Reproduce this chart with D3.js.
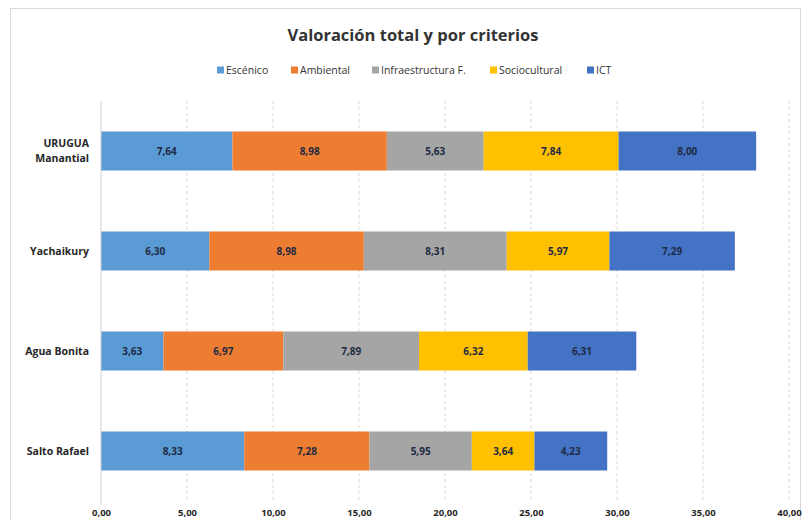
<!DOCTYPE html>
<html><head><meta charset="utf-8">
<script src="https://cdn.jsdelivr.net/npm/d3@7"></script>
<style>body{margin:0;background:#fff;} svg{display:block;font-family:"Open Sans","DejaVu Sans",sans-serif;}</style>
</head><body>
<svg id="c" width="803" height="520"></svg>
<script>
const categories = ["URUGUA Manantial", "Yachaikury", "Agua Bonita", "Salto Rafael"];
const seriesNames = ["Escénico", "Ambiental", "Infraestructura F.", "Sociocultural", "ICT"];
const escenico = [7.64, 6.30, 3.63, 8.33];
const ambiental = [8.98, 8.98, 6.97, 7.28];
const infraestructura = [5.63, 8.31, 7.89, 5.95];
const sociocultural = [7.84, 5.97, 6.32, 3.64];
const ict = [8.00, 7.29, 6.31, 4.23];
const xTicks = [0, 5, 10, 15, 20, 25, 30, 35, 40];
const colors = ["#5B9BD5", "#ED7D31", "#A5A5A5", "#FFC000", "#4472C4"];

const seriesValues = [escenico, ambiental, infraestructura, sociocultural, ict];
const rows = categories.map((c, i) => {
  const r = {cat: c};
  seriesNames.forEach((s, j) => r[s] = seriesValues[j][i]);
  return r;
});
const stack = d3.stack().keys(seriesNames)(rows);

const svg = d3.select("#c");
svg.append("rect").attr("x", 10.5).attr("y", 8.5).attr("width", 790).attr("height", 520)
  .attr("fill", "#fff").attr("stroke", "#d9d9d9");

const x = d3.scaleLinear().domain([0, 40]).range([101, 789]);
const y = d3.scaleBand().domain(categories).range([101, 501]).paddingInner(0.61).paddingOuter(0.305);

// gridlines
svg.append("g").selectAll("line").data(xTicks.slice(1)).join("line")
  .attr("x1", d => x(d)).attr("x2", d => x(d)).attr("y1", 101).attr("y2", 501)
  .attr("stroke", "#d9d9d9").attr("stroke-width", 1).attr("stroke-dasharray", "3,3");

// bars
const fmt = v => v.toFixed(2).replace(".", ",");
stack.forEach((s, j) => {
  const g = svg.append("g");
  g.selectAll("rect").data(s).join("rect")
    .attr("x", d => x(d[0])).attr("width", d => x(d[1]) - x(d[0]))
    .attr("y", d => y(d.data.cat)).attr("height", y.bandwidth())
    .attr("fill", colors[j]);
  g.selectAll("text").data(s).join("text")
    .attr("x", d => (x(d[0]) + x(d[1])) / 2)
    .attr("y", d => y(d.data.cat) + y.bandwidth() / 2)
    .attr("dy", "0.35em").attr("text-anchor", "middle")
    .attr("font-size", 10).attr("font-weight", "bold").attr("fill", "#1f2a44")
    .text(d => fmt(d[1] - d[0]));
});

// y axis line
svg.append("line").attr("x1", x(0)).attr("x2", x(0)).attr("y1", 101).attr("y2", 505)
  .attr("stroke", "#d0d0d0");

// category labels
const cl = svg.append("g").selectAll("text").data(categories).join("text")
  .attr("x", 89).attr("text-anchor", "end")
  .attr("font-size", 10.5).attr("font-weight", "bold").attr("fill", "#262626");
cl.each(function(d) {
  const parts = d === "URUGUA Manantial" ? ["URUGUA", "Manantial"] : [d];
  const t = d3.select(this);
  const cy = y(d) + y.bandwidth() / 2;
  parts.forEach((p, k) => {
    t.append("tspan").attr("x", 89)
      .attr("y", cy + (k - (parts.length - 1) / 2) * 15)
      .attr("dy", "0.35em").text(p);
  });
});

// x axis
const xa = svg.append("g").attr("transform", "translate(0,501)")
  .call(d3.axisBottom(x).tickValues(xTicks).tickSize(0).tickPadding(8).tickFormat(fmt));
xa.select(".domain").remove();
xa.selectAll("text").attr("font-size", 9.5).attr("font-weight", "bold").attr("fill", "#262626")
  .attr("font-family", "'Open Sans','DejaVu Sans',sans-serif");

// title
svg.append("text").attr("x", 413).attr("y", 35).attr("dy", "0.35em").attr("text-anchor", "middle")
  .attr("font-size", 16.5).attr("font-weight", "bold").attr("fill", "#333")
  .text("Valoración total y por criterios");

// legend
const legX = [217, 291, 372, 490, 587];
const lg = svg.append("g").selectAll("g").data(seriesNames).join("g")
  .attr("transform", (d, i) => `translate(${legX[i]},70)`);
lg.append("rect").attr("x", 0).attr("y", -3.5).attr("width", 7).attr("height", 7)
  .attr("fill", (d, i) => colors[i]);
lg.append("text").attr("x", 9).attr("dy", "0.35em").attr("font-size", 10.5)
  .attr("fill", "#333").text(d => d);
</script>
</body></html>
